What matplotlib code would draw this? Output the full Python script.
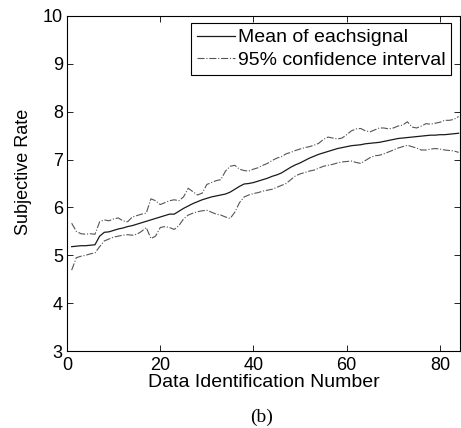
import matplotlib
matplotlib.use("Agg")
import matplotlib.pyplot as plt
import numpy as np

# Dados (indice 1..84)
ids = np.arange(1, 85)

media = [5.18, 5.19, 5.20, 5.20, 5.21, 5.22, 5.40, 5.48, 5.49, 5.52,
         5.55, 5.57, 5.60, 5.62, 5.65, 5.68, 5.71, 5.74, 5.77, 5.80,
         5.83, 5.86, 5.86, 5.92, 5.98, 6.03, 6.08, 6.12, 6.16, 6.19,
         6.22, 6.24, 6.26, 6.28, 6.32, 6.38, 6.44, 6.49, 6.50, 6.52,
         6.55, 6.58, 6.61, 6.65, 6.68, 6.72, 6.78, 6.84, 6.89, 6.93,
         6.98, 7.03, 7.07, 7.11, 7.14, 7.17, 7.20, 7.23, 7.25, 7.27,
         7.29, 7.30, 7.31, 7.33, 7.34, 7.35, 7.36, 7.38, 7.40, 7.42,
         7.44, 7.45, 7.46, 7.47, 7.48, 7.49, 7.50, 7.51, 7.51, 7.52,
         7.52, 7.53, 7.54, 7.55]

superior = [5.67, 5.50, 5.45, 5.44, 5.45, 5.44, 5.70, 5.74, 5.72, 5.76,
            5.78, 5.72, 5.70, 5.80, 5.83, 5.86, 5.88, 6.18, 6.14, 6.06,
            6.10, 6.14, 6.16, 6.14, 6.22, 6.40, 6.33, 6.26, 6.30, 6.48,
            6.52, 6.56, 6.58, 6.76, 6.86, 6.88, 6.80, 6.77, 6.76, 6.80,
            6.83, 6.88, 6.92, 6.98, 7.03, 7.06, 7.12, 7.15, 7.19, 7.22,
            7.25, 7.27, 7.30, 7.34, 7.42, 7.47, 7.45, 7.43, 7.45, 7.52,
            7.60, 7.64, 7.65, 7.60, 7.58, 7.62, 7.66, 7.66, 7.64, 7.66,
            7.70, 7.72, 7.79, 7.68, 7.66, 7.70, 7.75, 7.74, 7.76, 7.78,
            7.82, 7.82, 7.84, 7.90]

inferior = [4.69, 4.95, 4.98, 5.00, 5.03, 5.05, 5.18, 5.30, 5.34, 5.38,
            5.40, 5.42, 5.43, 5.42, 5.44, 5.50, 5.58, 5.35, 5.40, 5.58,
            5.60, 5.58, 5.54, 5.62, 5.76, 5.84, 5.88, 5.91, 5.93, 5.94,
            5.90, 5.86, 5.84, 5.80, 5.77, 5.90, 6.10, 6.22, 6.26, 6.29,
            6.31, 6.34, 6.36, 6.38, 6.42, 6.46, 6.50, 6.58, 6.66, 6.70,
            6.73, 6.76, 6.78, 6.82, 6.86, 6.88, 6.90, 6.93, 6.95, 6.96,
            6.97, 6.94, 6.92, 6.98, 7.04, 7.08, 7.09, 7.12, 7.16, 7.20,
            7.24, 7.27, 7.30, 7.27, 7.24, 7.20, 7.20, 7.22, 7.23, 7.22,
            7.20, 7.19, 7.18, 7.15]

plt.rcParams["font.family"] = ["Liberation Sans", "DejaVu Sans"]
plt.rcParams["font.size"] = 13

fig = plt.figure(figsize=(4.61, 4.28), dpi=100)
ax = fig.add_axes([67 / 461, 1 - 351 / 428, 393 / 461, 335 / 428])

ax.plot(ids, media, color="#1a1a1a", linewidth=0.9, label="Mean of eachsignal")
ax.plot(ids, superior, color="#555555", linestyle="-.", linewidth=0.8,
        label="95% confidence interval")
ax.plot(ids, inferior, color="#555555", linestyle="-.", linewidth=0.8)

ax.set_xlim(0, 84.3)
ax.set_ylim(3, 10)
ax.set_xticks([0, 20, 40, 60, 80])
ax.set_yticks(np.arange(3, 11))
ax.tick_params(direction="in", top=True, right=True, length=4, width=0.6)
ax.tick_params(axis="x", pad=4)
ax.tick_params(axis="y", pad=3)
for s in ax.spines.values():
    s.set_linewidth(0.8)

ax.set_xlabel("Data Identification Number", fontsize=14, labelpad=0)
ax.set_ylabel("Subjective Rate")
ax.yaxis.set_label_coords(-0.088, 0.535)

leg = ax.legend(loc="upper right", bbox_to_anchor=(0.977, 0.979),
                fontsize=14, fancybox=False, edgecolor="black", framealpha=1,
                handlelength=1.95, handletextpad=0.15, borderpad=0.3,
                labelspacing=0.25, borderaxespad=0)
leg.get_frame().set_linewidth(0.8)

fig.text(262 / 461, 1 - 417 / 428, "(b)", ha="center", va="center",
         family=["Liberation Serif", "DejaVu Serif"], fontsize=14)

fig.savefig("out.png", dpi=100)
